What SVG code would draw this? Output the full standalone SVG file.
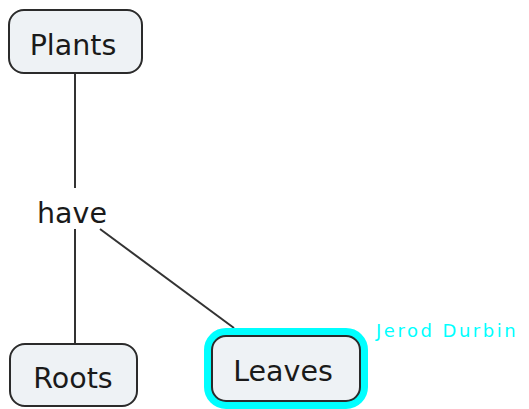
<svg xmlns="http://www.w3.org/2000/svg" width="529" height="409" viewBox="0 0 529 409">
<style>
.box{fill:#eef2f5;stroke:#2b2b2b;stroke-width:2}
.lbl{font-family:"DejaVu Sans",Verdana,sans-serif;font-size:28.5px;fill:#1a1a1a;text-anchor:middle}
.conn{stroke:#333;stroke-width:2;fill:none}
</style>
<rect width="529" height="409" fill="#ffffff"/>
<g id="connectors">
<line class="conn" x1="75" y1="73" x2="75" y2="188"/>
<line class="conn" x1="75" y1="229" x2="75" y2="343"/>
<line class="conn" x1="100" y1="229" x2="234" y2="328"/>
</g>
<g id="plants">
<rect class="box" x="9" y="10" width="133" height="63" rx="15"/>
<text class="lbl" x="73" y="55">Plants</text>
</g>
<g id="have">
<text class="lbl" x="72" y="223">have</text>
</g>
<g id="roots">
<rect class="box" x="10" y="344" width="127" height="62" rx="15"/>
<text class="lbl" x="73" y="388">Roots</text>
</g>
<g id="leaves">
<rect x="208" y="332" width="156" height="73" rx="18" fill="none" stroke="#00ffff" stroke-width="8"/>
<rect class="box" x="212" y="336" width="148" height="65" rx="14"/>
<text class="lbl" x="283" y="381">Leaves</text>
</g>
<g id="author">
<text x="376" y="337" font-family="DejaVu Sans,Verdana,sans-serif" font-size="18" letter-spacing="2.5" fill="#00ffff">Jerod Durbin</text>
</g>
</svg>
